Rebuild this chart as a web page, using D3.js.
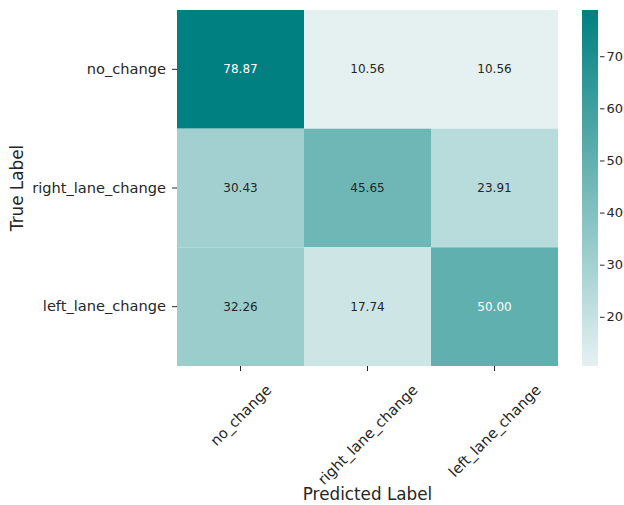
<!DOCTYPE html>
<html>
<head>
<meta charset="utf-8">
<script src="https://cdn.jsdelivr.net/npm/d3@7"></script>
<style>
  html, body { margin: 0; padding: 0; background: #ffffff; }
  svg { display: block; font-family: "DejaVu Sans", sans-serif; }
</style>
</head>
<body>
<svg id="chart" width="624" height="505"></svg>
<script>
// Confusion matrix (row-normalised, %)
const trueLabels = ["no_change", "right_lane_change", "left_lane_change"];
const predictedLabels = ["no_change", "right_lane_change", "left_lane_change"];
const rowNoChange = [78.87, 10.56, 10.56];
const rowRightLane = [30.43, 45.65, 23.91];
const rowLeftLane = [32.26, 17.74, 50.00];
const colorbarTicks = [20, 30, 40, 50, 60, 70];

const matrix = [rowNoChange, rowRightLane, rowLeftLane];
const cells = [];
matrix.forEach((row, i) => row.forEach((v, j) => cells.push({ t: trueLabels[i], p: predictedLabels[j], v })));

const svg = d3.select("#chart");
const plot = { left: 177, right: 558, top: 10, bottom: 366 };
const cbar = { left: 582, right: 598 };

const x = d3.scaleBand().domain(predictedLabels).range([plot.left, plot.right]);
const y = d3.scaleBand().domain(trueLabels).range([plot.top, plot.bottom]);

const vmin = d3.min(cells, d => d.v), vmax = d3.max(cells, d => d.v);
const lightTeal = "rgb(229,241,241)", teal = "rgb(0,128,128)";
const color = d3.scaleLinear().domain([vmin, vmax]).range([lightTeal, teal]).interpolate(d3.interpolateRgb);

function luminance(c) {
  const rgb = d3.rgb(c);
  const f = u => { u /= 255; return u <= 0.03928 ? u / 12.92 : Math.pow((u + 0.055) / 1.055, 2.4); };
  return 0.2126 * f(rgb.r) + 0.7152 * f(rgb.g) + 0.0722 * f(rgb.b);
}

// heatmap cells
svg.append("g").selectAll("rect").data(cells).join("rect")
  .attr("x", d => x(d.p)).attr("y", d => y(d.t))
  .attr("width", x.bandwidth()).attr("height", y.bandwidth())
  .attr("fill", d => color(d.v));

// annotations: light text on dark cells
svg.append("g").selectAll("text").data(cells).join("text")
  .attr("x", d => x(d.p) + x.bandwidth() / 2)
  .attr("y", d => y(d.t) + y.bandwidth() / 2)
  .attr("text-anchor", "middle").attr("dominant-baseline", "central")
  .attr("font-size", 12)
  .attr("fill", d => luminance(color(d.v)) > 0.39 ? "#262626" : "#ffffff")
  .text(d => d.v.toFixed(2));

// y axis
const yAxis = svg.append("g").attr("transform", `translate(${plot.left},0)`)
  .call(d3.axisLeft(y).tickSize(5).tickPadding(6));
yAxis.select(".domain").remove();
yAxis.selectAll(".tick line").attr("stroke", "#262626");
yAxis.selectAll(".tick text").attr("font-size", 14.6).attr("fill", "#262626")
  .attr("font-family", "DejaVu Sans");

// x axis with 45° labels, bbox centred under each tick
const xAxis = svg.append("g").attr("transform", `translate(0,${plot.bottom})`)
  .call(d3.axisBottom(x).tickSize(5).tickFormat(""));
xAxis.select(".domain").remove();
xAxis.selectAll(".tick line").attr("stroke", "#262626");

const xLabelTop = plot.bottom + 15;
const xl = svg.append("g").selectAll("text").data(predictedLabels).join("text")
  .attr("font-size", 14.6).attr("fill", "#262626")
  .attr("text-anchor", "middle").attr("dominant-baseline", "central")
  .text(d => d);
xl.each(function (d) {
  const w = this.getComputedTextLength();
  const h = 14.6 * 1.16;
  const cx = x(d) + x.bandwidth() / 2;
  const cy = xLabelTop + (w + h) / (2 * Math.SQRT2);
  d3.select(this).attr("x", cx).attr("y", cy).attr("transform", `rotate(-45,${cx},${cy})`);
});

// axis titles
svg.append("text").attr("x", (plot.left + plot.right) / 2).attr("y", 500)
  .attr("text-anchor", "middle").attr("font-size", 16.8).attr("fill", "#262626")
  .text("Predicted Label");
svg.append("text").attr("transform", `translate(22.5,${(plot.top + plot.bottom) / 2}) rotate(-90)`)
  .attr("text-anchor", "middle").attr("font-size", 16.8).attr("fill", "#262626")
  .text("True Label");

// colorbar
const cy = d3.scaleLinear().domain([vmin, vmax]).range([plot.bottom, plot.top]);
const grad = svg.append("defs").append("linearGradient").attr("id", "cbar-grad")
  .attr("x1", 0).attr("y1", 1).attr("x2", 0).attr("y2", 0);
d3.range(0, 1.0001, 0.1).forEach(t => {
  grad.append("stop").attr("offset", t).attr("stop-color", color(vmin + t * (vmax - vmin)));
});
svg.append("rect").attr("x", cbar.left).attr("y", plot.top)
  .attr("width", cbar.right - cbar.left).attr("height", plot.bottom - plot.top)
  .attr("fill", "url(#cbar-grad)");
const cAxis = svg.append("g").attr("transform", `translate(${cbar.right + 2},0)`)
  .call(d3.axisRight(cy).tickValues(colorbarTicks).tickSize(4.5).tickPadding(2));
cAxis.select(".domain").remove();
cAxis.selectAll(".tick line").attr("stroke", "#262626");
cAxis.selectAll(".tick text").attr("font-size", 13).attr("fill", "#262626")
  .attr("font-family", "DejaVu Sans");
</script>
</body>
</html>
